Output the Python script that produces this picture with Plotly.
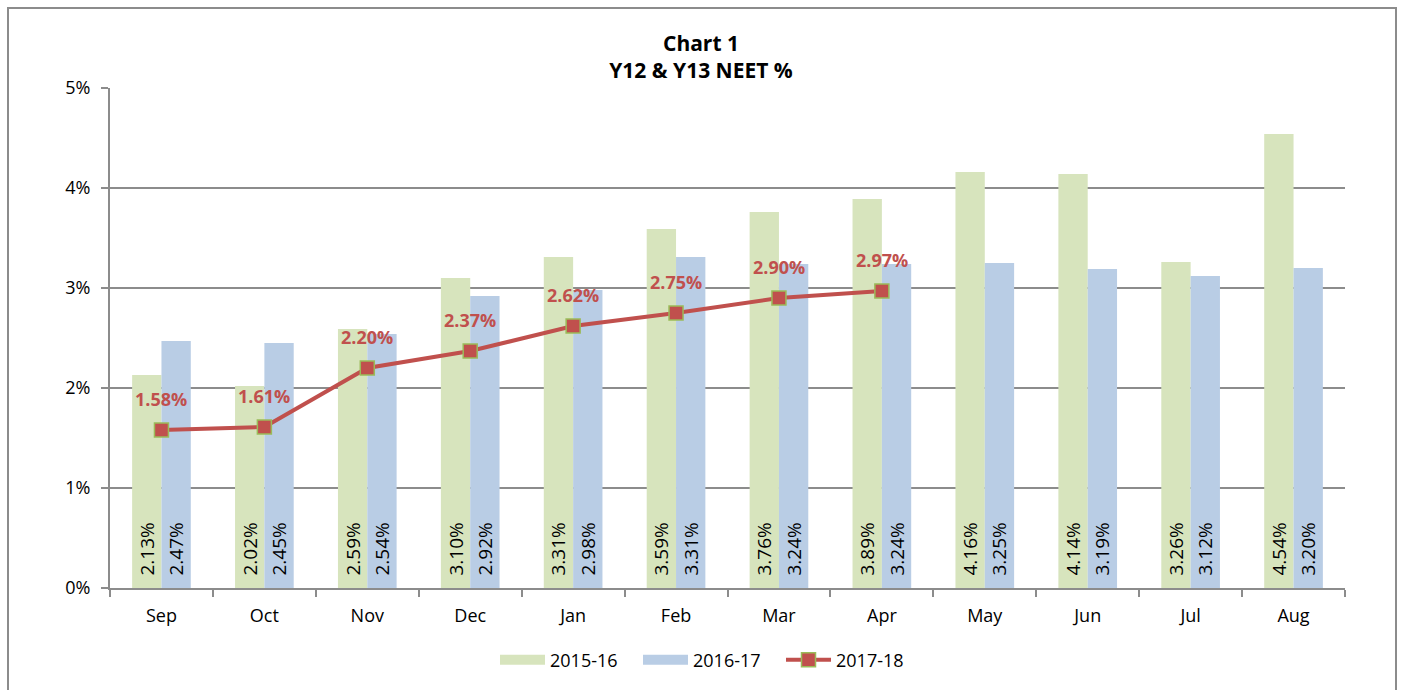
import plotly.graph_objects as go

months = ["Sep", "Oct", "Nov", "Dec", "Jan", "Feb", "Mar", "Apr", "May", "Jun", "Jul", "Aug"]
y2015_16 = [2.13, 2.02, 2.59, 3.10, 3.31, 3.59, 3.76, 3.89, 4.16, 4.14, 3.26, 4.54]
y2016_17 = [2.47, 2.45, 2.54, 2.92, 2.98, 3.31, 3.24, 3.24, 3.25, 3.19, 3.12, 3.20]
y2017_18 = [1.58, 1.61, 2.20, 2.37, 2.62, 2.75, 2.90, 2.97]
series_names = ["2015-16", "2016-17", "2017-18"]
y_ticks = [0, 1, 2, 3, 4, 5]

FONT = "Open Sans"
GREEN = "#D7E4BD"
BLUE = "#B9CDE5"
RED = "#C0504D"
MARK_EDGE = "#9BBB59"
GRID = "#8C8C8C"

W, H = 1402, 690
ML, MR, MT, MB = 110, 57, 88, 102
PW, PH = W - ML - MR, H - MT - MB


def frac(v):
    return [x / 100 for x in v]


fig = go.Figure()
for name, vals, col in [(series_names[0], y2015_16, GREEN), (series_names[1], y2016_17, BLUE)]:
    fig.add_trace(go.Bar(
        x=months, y=frac(vals), name=name, marker=dict(color=col, line=dict(width=0)),
        text=["\u2002" + f"{v:.2f}%" for v in vals], textposition="inside", textangle=-90,
        insidetextanchor="start", textfont=dict(family=FONT, size=19, color="#000000"),
        constraintext="none", hoverinfo="skip", showlegend=False, legendgroup=name,
    ))
    # legend swatch
    fig.add_trace(go.Scatter(
        x=[None], y=[None], mode="lines", name=name, legendgroup=name,
        line=dict(color=col, width=14), hoverinfo="skip",
    ))

fig.add_trace(go.Scatter(
    x=months[:len(y2017_18)], y=frac(y2017_18), name=series_names[2], mode="lines+markers",
    line=dict(color=RED, width=4),
    marker=dict(symbol="square", size=14, color=RED, line=dict(color=MARK_EDGE, width=1.5)),
    cliponaxis=False,
))

for m, v in zip(months, y2017_18):
    fig.add_annotation(
        x=m, y=v / 100, text=f"<b>{v:.2f}%</b>", showarrow=False, yshift=31,
        font=dict(family=FONT, size=18, color=RED), xanchor="center", yanchor="middle",
    )

fig.update_layout(
    width=W, height=H,
    margin=dict(l=ML, r=MR, t=MT, b=MB),
    paper_bgcolor="white", plot_bgcolor="white",
    font=dict(family=FONT, size=18, color="#000000"),
    barmode="group", bargap=0.43, bargroupgap=0,
    title=dict(text="<b>Chart 1</b><br><b>Y12 & Y13 NEET %</b>", x=0.5, xref="container",
               xanchor="center", y=1 - 51 / H, yref="container", yanchor="middle",
               font=dict(family=FONT, size=21, color="#000000")),
    legend=dict(orientation="h", x=(709.5 - ML) / PW, xanchor="center", y=-(660 - 588) / PH,
                yanchor="middle", font=dict(family=FONT, size=18), itemwidth=45,
                entrywidth=83, entrywidthmode="pixels", traceorder="normal"),
    showlegend=True,
)
fig.update_xaxes(
    type="category", range=[-0.5, len(months) - 0.5], tickson="boundaries",
    ticks="outside", ticklen=7, tickcolor=GRID, ticklabelstandoff=10,
    tickwidth=1.5, showline=True, linecolor=GRID, linewidth=2, showgrid=False,
    tickfont=dict(family=FONT, size=18),
)
fig.update_yaxes(
    range=[0, 0.05], tickvals=[t / 100 for t in y_ticks], ticktext=[f"{t}%" for t in y_ticks],
    ticks="outside", ticklen=7, tickcolor=GRID, tickwidth=1.5, ticklabelstandoff=7,
    showline=True, linecolor=GRID, linewidth=2,
    showgrid=True, gridcolor=GRID, gridwidth=1.5, zeroline=False,
    tickfont=dict(family=FONT, size=18),
)
# outer chart border
fig.add_shape(type="rect", xref="paper", yref="paper",
              x0=(8 - ML) / PW, x1=(1396 - ML) / PW,
              y0=-(MB + 10) / PH, y1=1 + (MT - 8) / PH,
              line=dict(color=GRID, width=2), fillcolor="rgba(0,0,0,0)", layer="below")

fig.write_html("out.html", config={"displayModeBar": False},
               post_script="document.body.style.margin='0';document.body.style.overflow='hidden';")
